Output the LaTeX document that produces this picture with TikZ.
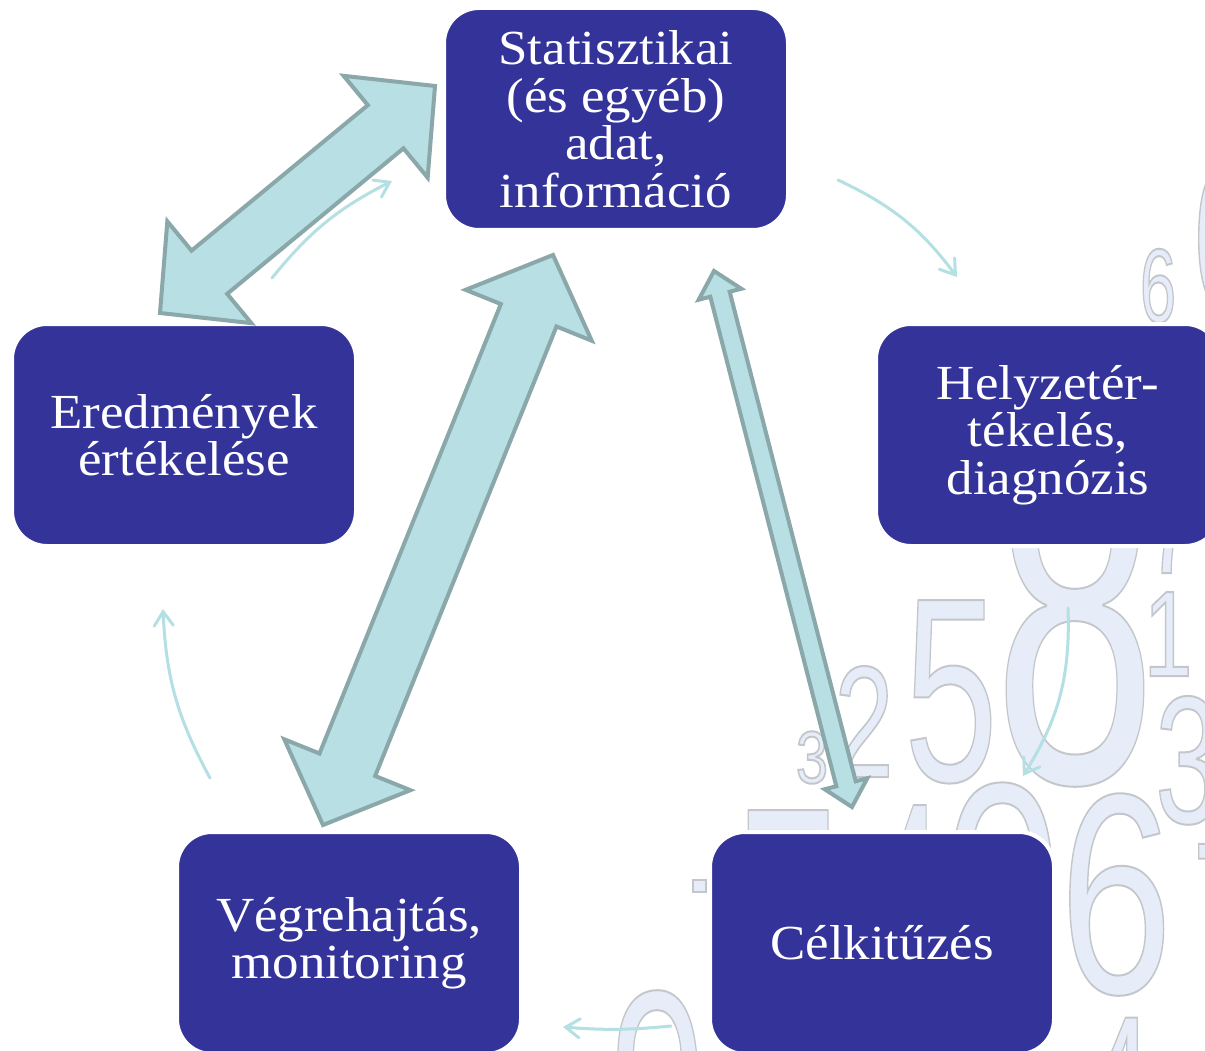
\documentclass[tikz,border=0pt]{standalone}
\usepackage{fontspec}
\setmainfont{Liberation Serif}[FakeStretch=1.08]
\newfontfamily\digitfont{Liberation Sans}
\usetikzlibrary{calc,arrows.meta}
\definecolor{boxblue}{HTML}{343399}
\definecolor{arrowfill}{HTML}{B8DFE3}
\definecolor{arrowline}{HTML}{8AA7A9}
\definecolor{thinline}{HTML}{B4E0E3}
\definecolor{digitfill}{HTML}{E6EDF8}
\definecolor{digitline}{HTML}{C3C7CB}
\tikzset{
  stagebox/.style={fill=boxblue, draw=white, line width=4pt, rounded corners=35pt,
    minimum width=344pt, minimum height=222pt, text=white, align=center,
    inner sep=0pt, font=\fontsize{49}{47.5}\selectfont},
  bigarrow/.style={fill=arrowfill, draw=arrowline, line width=4pt, line join=miter},
  thinarrow/.style={draw=thinline, line width=3pt, line cap=round,
    -{Straight Barb[length=14pt,width=19pt,line cap=round]}},
  digitnode/.style={inner sep=0pt, anchor=base, text=digitfill},
}
\newcommand\outlined[1]{\special{pdf:literal direct 2 Tr 2 w 0.765 0.780 0.796 RG}#1\special{pdf:literal direct 0 Tr}}
% name, x, baseline y, font size, xscale, digit
\newcommand\bgdigit[6]{\node[digitnode, xscale=#5, font=\digitfont\fontsize{#4}{#4}\selectfont] (#1) at (#2,#3) {\outlined{#6}};}
% double arrow: tip A, tip B, shaft half width, head half width, head length
\newcommand\dblarrow[5]{%
  \coordinate (da1) at ($(#1)!#5!(#2)$);
  \coordinate (da2) at ($(#2)!#5!(#1)$);
  \draw[bigarrow] (#1) -- ($(da1)!#4!90:(#2)$) -- ($(da1)!#3!90:(#2)$)
    -- ($(da2)!#3!-90:(#1)$) -- ($(da2)!#4!-90:(#1)$) -- (#2)
    -- ($(da2)!#4!90:(#1)$) -- ($(da2)!#3!90:(#1)$)
    -- ($(da1)!#3!-90:(#2)$) -- ($(da1)!#4!-90:(#2)$) -- cycle;}
\begin{document}
\begin{tikzpicture}[x=1pt,y=-1pt]
\fill[white] (0,0) rectangle (1205,1051);
\useasboundingbox (0,0) rectangle (1205,1051);
\clip (0,0) rectangle (1205,1051);

% background digits
\bgdigit{d8}{1075}{782}{489}{0.6}{8}
\bgdigit{d5}{951}{781}{263}{0.64}{5}
\bgdigit{d2}{864}{777}{159}{0.67}{2}
\bgdigit{d3s}{812}{783}{74}{0.78}{3}
\bgdigit{d1}{1168}{676}{122}{0.72}{1}
\bgdigit{d3r}{1188}{823}{182}{0.65}{3}
\bgdigit{d0}{1002}{987}{293}{0.72}{0}
\bgdigit{d6}{1116}{993}{286}{0.71}{6}
\bgdigit{d7r}{1228}{980}{198}{0.65}{7}
\bgdigit{d7m}{1172}{573}{154}{0.65}{7}
\bgdigit{d7l}{788}{1002}{279}{0.63}{7}
\bgdigit{d4m}{905}{997}{279}{0.5}{4}
\bgdigit{d6s}{1158}{322}{105}{0.62}{6}
\bgdigit{d0t}{1236}{315}{223}{0.7}{0}
\bgdigit{d4b}{1118}{1162}{210}{0.6}{4}
\bgdigit{d9}{658}{1185}{279}{0.62}{9}
\fill[digitfill, draw=digitline, line width=1.4pt] (693,880) rectangle (706,892);

% thin cycle arrows
\coordinate (t1s) at (272,278); \coordinate (t1e) at (392,181);
\coordinate (t2s) at (838,180); \coordinate (t2e) at (957,277);
\coordinate (t3s) at (1068,608); \coordinate (t3e) at (1023,776);
\coordinate (t4s) at (671,1026); \coordinate (t4e) at (563,1027);
\coordinate (t5s) at (210,778); \coordinate (t5e) at (163,609);
\draw[thinarrow] (t1s) to[bend left=12] (t1e);
\draw[thinarrow] (t2s) to[bend left=14] (t2e);
\draw[thinarrow] (t3s) to[bend left=17] (t3e);
\draw[thinarrow] (t4s) to[bend left=5] (t4e);
\draw[thinarrow] (t5s) to[bend left=13] (t5e);

% stage boxes
\node[stagebox] (stat) at (616,119) {Statisztikai\\(és egyéb)\\adat,\\információ};
\node[stagebox] (helyz) at (1048,435) {Helyzetér-\\tékelés,\\diagnózis};
\node[stagebox] (celk) at (882,943) {Célkitűzés};
\node[stagebox] (vegr) at (349,943) {Végrehajtás,\\monitoring};
\node[stagebox] (eredm) at (184,435) {Eredmények\\értékelése};

% big double arrows
\coordinate (a1s) at (160,313); \coordinate (a1e) at (435,86);
\coordinate (a2s) at (323,825); \coordinate (a2e) at (553,255);
\coordinate (a3s) at (852,807); \coordinate (a3e) at (714,271);
\dblarrow{a1s}{a1e}{28pt}{66pt}{64pt}
\dblarrow{a2s}{a2e}{30pt}{68pt}{65pt}
\dblarrow{a3s}{a3e}{10pt}{22pt}{24pt}
\end{tikzpicture}
\end{document}
